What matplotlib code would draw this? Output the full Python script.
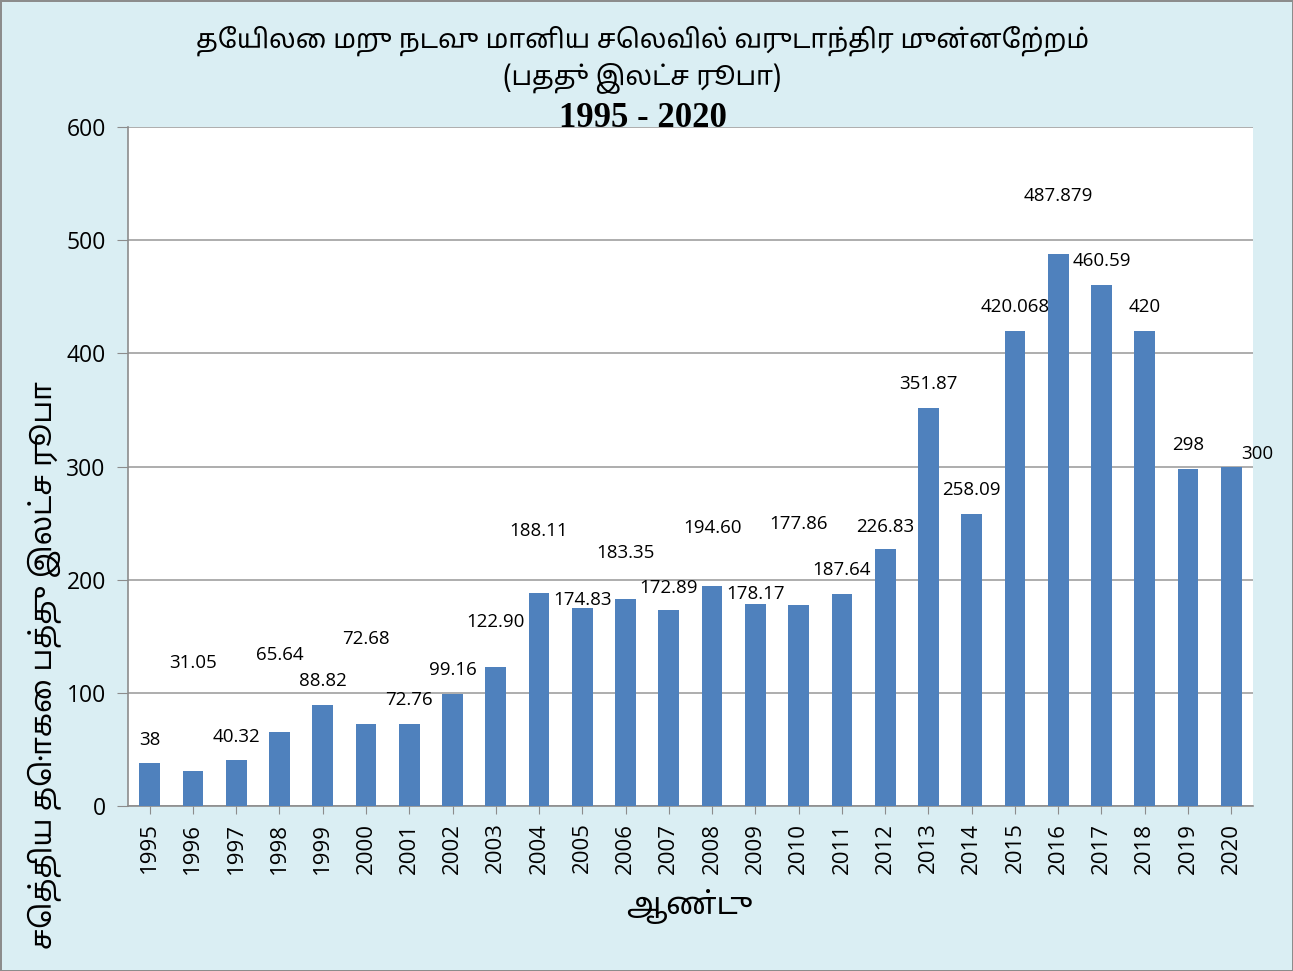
import matplotlib
matplotlib.use('Agg')
import matplotlib.pyplot as plt
from matplotlib import font_manager

years = [str(y) for y in range(1995, 2021)]
values = [38, 31.05, 40.32, 65.64, 88.82, 72.68, 72.76, 99.16, 122.90, 188.11,
          174.83, 183.35, 172.89, 194.60, 178.17, 177.86, 187.64, 226.83, 351.87,
          258.09, 420.068, 487.879, 460.59, 420, 298, 300]
value_labels = ['38', '31.05', '40.32', '65.64', '88.82', '72.68', '72.76', '99.16',
                '122.90', '188.11', '174.83', '183.35', '172.89', '194.60', '178.17',
                '177.86', '187.64', '226.83', '351.87', '258.09', '420.068', '487.879',
                '460.59', '420', '298', '300']
# label heights as moved by hand in the original chart
label_y = [58, 126, 61, 133, 110, 148, 94, 120, 163, 243, 182, 224, 193, 246, 187,
           249, 209, 247, 373, 279, 441, 539, 482, 441, 319, 311]
label_dx = [0] * 25 + [0.6]

title_lines = ['தேயிலை மறு நடவு மானிய செலவில் வருடாந்திர முன்னேற்றம்', '(பதது் இலட்ச ரூபா)']
xlabel = 'ஆண்டு'
ylabel = 'செத்திய தொகை பத்து இலட்ச ரூபா'

names = {f.name for f in font_manager.fontManager.ttflist}
tamil = [n for n in ['Noto Sans Tamil', 'Lohit Tamil', 'Latha', 'Noto Serif Tamil'] if n in names]
tfam = tamil + ['DejaVu Sans']
num_font = 'Open Sans'

bg = '#DAEEF3'
fig = plt.figure(figsize=(12.93, 9.71), dpi=100, facecolor=bg,
                 edgecolor='#8c8c8c', linewidth=2)
ax = fig.add_axes([0.099, 0.170, 0.870, 0.699])
ax.set_facecolor('white')

x = range(len(years))
ax.bar(x, values, width=0.48, color='#4F81BD', zorder=3)
for i in x:
    ax.text(i + label_dx[i], label_y[i], value_labels[i], ha='center', va='center',
            fontsize=13.5, family=num_font, zorder=4)

ax.set_ylim(0, 600)
ax.set_xlim(-0.5, len(years) - 0.5)
ax.set_yticks(range(0, 601, 100))
ax.yaxis.grid(True, color='#a0a0a0', linewidth=1.2, zorder=0)
ax.set_xticks(list(x))
ax.set_xticklabels(years, rotation=90, fontsize=16, family=num_font)
for lbl in ax.get_yticklabels():
    lbl.set_fontsize(16.5)
    lbl.set_family(num_font)
ax.tick_params(axis='y', length=8, color='#8c8c8c', pad=8)
ax.tick_params(axis='x', length=6, color='#8c8c8c', pad=6)
for side in ['top', 'right']:
    ax.spines[side].set_visible(False)
ax.spines['left'].set_color('#8c8c8c')
ax.spines['bottom'].set_color('#8c8c8c')
ax.spines['left'].set_linewidth(1.2)
ax.spines['bottom'].set_linewidth(1.2)

fig.text(0.497, 0.958, title_lines[0], ha='center', va='center', fontsize=19,
         fontweight='bold', family=tfam)
fig.text(0.497, 0.920, title_lines[1], ha='center', va='center', fontsize=19,
         fontweight='bold', family=tfam)
fig.text(0.497, 0.878, '1995 - 2020', ha='center', va='center', fontsize=25,
         fontweight='bold', family='Liberation Serif')
fig.text(0.533, 0.066, xlabel, ha='center', va='center', fontsize=22,
         fontweight='bold', family=tfam)
fig.text(0.034, 0.315, ylabel, ha='center', va='center', fontsize=21,
         fontweight='bold', rotation=90, family=tfam)

fig.savefig('out.png', facecolor=bg, edgecolor='#8c8c8c')
